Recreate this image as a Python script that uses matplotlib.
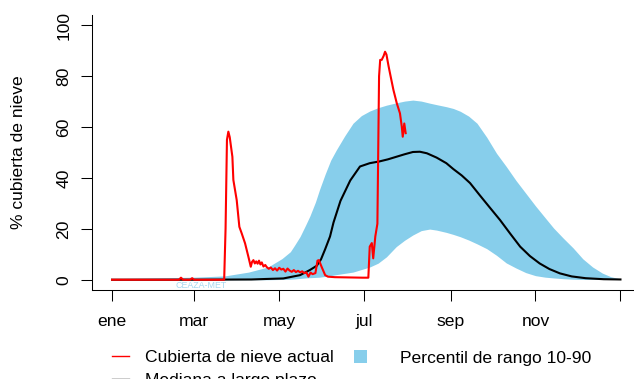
import matplotlib
matplotlib.use("Agg")
import matplotlib.pyplot as plt
from matplotlib.lines import Line2D
from matplotlib.patches import Rectangle

# snow cover data (x = day of year, y = %)
band_days = [0, 30, 59, 81, 98, 112, 122, 128, 131, 135, 139, 142, 146, 149, 153, 157,
             161, 167, 173, 179, 185, 191, 197, 204, 210, 216, 222, 228, 233, 240, 245,
             250, 256, 262, 269, 276, 283, 290, 297, 304, 311, 317, 324, 331, 338, 345,
             352, 358, 365]
band_high = [0.4, 0.7, 1.0, 1.5, 3, 5, 8.3, 11, 13.5, 17, 21.5, 25, 30.5, 35.5, 41.5, 47,
             51, 56.5, 61.5, 64.5, 66.3, 67.6, 68.6, 69.5, 70.2, 70.6, 70.2, 69.4, 68.8, 68, 67.3,
             66.2, 64.3, 61.5, 56, 49.7, 44.5, 39, 34, 29, 24.3, 20.3, 16.3, 12.5, 8.2, 5,
             2.6, 1.2, 0.3]
band_low = [0, 0, 0, 0, 0, 0, 0.1, 0.2, 0.3, 0.5, 0.7, 0.8, 0.9, 1.0, 1.3, 1.6,
            2, 2.5, 3, 4, 5, 6.5, 9, 13, 15.5, 17.6, 19.3, 19.9, 19.5, 18.6, 17.8,
            16.9, 15.6, 14.1, 12.2, 9.6, 6.6, 4.6, 2.8, 1.6, 1.0, 0.7, 0.4, 0.2, 0.1, 0.1,
            0.1, 0.1, 0.1]

med_days = [0, 59, 100, 111, 123, 135, 142, 147, 150, 153, 156.5, 159, 164, 171, 178, 185,
            192, 198, 204, 210, 216, 221, 226, 233, 240, 245, 251, 257, 264, 271, 278.5,
            286, 293, 300, 307, 314, 321.5, 330, 340, 353, 365]
med_vals = [0, 0, 0.1, 0.3, 0.5, 1.8, 3.8, 5.5, 8, 12, 17, 22.5, 31, 39, 44.5, 45.8,
            46.5, 47.3, 48.3, 49.3, 50.2, 50.3, 49.7, 48, 45.8, 43.5, 41, 38, 33.2, 28.5, 23.5,
            18, 13, 9.3, 6.4, 4.2, 2.5, 1.3, 0.6, 0.2, 0.1]

cur_days = [0, 48, 49.5, 51, 56, 57.5, 59, 80.5, 81.5, 82.5, 83.5, 84.5, 86.4, 87.1, 89.5,
            91.4, 93.1, 95.5, 97.9, 99.6, 100.5, 101.5, 102.5, 103.5, 104.5, 105.5, 106.5,
            107.5, 108.7, 110, 111, 112.5, 114, 115.5, 117, 118.5, 120, 121.5, 123, 124.5,
            126, 127.5, 129, 130.5, 132, 133.5, 135, 136.5, 138, 139.5, 141, 142.5, 144, 146,
            147.5, 148.5, 150.5, 153, 155, 160, 170, 180, 184, 185, 186.5, 187.5, 189, 190.5,
            191.7, 192.5, 193.6, 195, 196, 197, 198.5, 199.6, 202, 204.4, 206.7, 208, 208.7,
            209.8, 210.8]
cur_vals = [0, 0, 0.8, 0, 0, 0.6, 0, 0, 20, 55, 58.2, 56, 48.3, 39.2, 31.3,
            20.8, 18.2, 14.3, 9, 5.1, 7, 7.7, 6.4, 7.2, 6.3, 7.5, 6,
            6.8, 5.2, 5.8, 5, 4.3, 4.8, 3.8, 4.5, 3.6, 4.7, 4, 4.3, 3.2,
            4.4, 3.6, 3.1, 3.8, 3, 3.5, 2.9, 3.3, 2.6, 2.9, 1.2, 2.8, 2.2, 2.6,
            7.5, 7.7, 5, 1.8, 1.2, 1.0, 0.9, 0.8, 0.8, 13, 14.4, 8.4, 17, 22,
            80, 86.4, 86.4, 88, 89.6, 88.5, 84, 81, 74.6, 69.4, 65.4, 60.2, 56.2,
            61.4, 57.6]

month_days = [0, 59, 120, 181, 243, 304, 365]
month_labels = ["ene", "mar", "may", "jul", "sep", "nov", ""]
y_ticks = [0, 20, 40, 60, 80, 100]

plt.rcParams["font.family"] = ["Liberation Sans", "DejaVu Sans"]
W, H = 634, 379
FS = 12.6
BLUE = "#87ceeb"


def fx(x):
    return x / W


def fy(y):
    return 1 - y / H


fig = plt.figure(figsize=(W / 100, H / 100), dpi=100)
ax = fig.add_axes([fx(91.7), fy(289.9), (640.8 - 91.7) / W, (289.9 - 15.1) / H])

ax.fill_between(band_days, band_low, band_high, color=BLUE, lw=0)
ax.plot(med_days, med_vals, color="black", lw=1.5)
ax.plot(cur_days, cur_vals, color="red", lw=1.5)

ax.set_xlim(-14.6, 379.6)
ax.set_ylim(-4, 104)
for s in ["top", "right"]:
    ax.spines[s].set_visible(False)
for s in ["left", "bottom"]:
    ax.spines[s].set_linewidth(0.75)

ax.set_xticks(month_days)
ax.set_xticklabels(month_labels)
ax.set_yticks(y_ticks)
ax.set_yticklabels([str(v) for v in y_ticks], rotation=90, va="center")
ax.tick_params(length=8, width=0.75, labelsize=FS, direction="out")
ax.tick_params(axis="x", pad=9)
ax.tick_params(axis="y", pad=6.5)

fig.text(fx(19), fy(152.5), "% cubierta de nieve", rotation=90, ha="center", va="center",
         fontsize=FS)
fig.text(fx(201), fy(285), "CEAZA-MET", ha="center", va="center", fontsize=6.4,
         color="#a6d8f0")

# legend, laid out like the R one (second row is cut by the bottom edge, as in the source)
fig.add_artist(Line2D([fx(111.8), fx(128.8)], [fy(356.3)] * 2, color="red", lw=1.0))
fig.add_artist(Line2D([fx(111.8), fx(128.8)], [fy(379)] * 2, color="black", lw=1.0))
fig.add_artist(Rectangle((fx(353.9), fy(362.8)), 13 / W, 13 / H, color=BLUE, lw=0))
fig.text(fx(144.7), fy(362.5), "Cubierta de nieve actual", fontsize=FS, va="baseline")
fig.text(fx(144.7), fy(385), "Mediana a largo plazo", fontsize=FS, va="baseline")
fig.text(fx(399.8), fy(362.5), "Percentil de rango 10-90", fontsize=FS, va="baseline")

fig.savefig("out.png", dpi=100)
